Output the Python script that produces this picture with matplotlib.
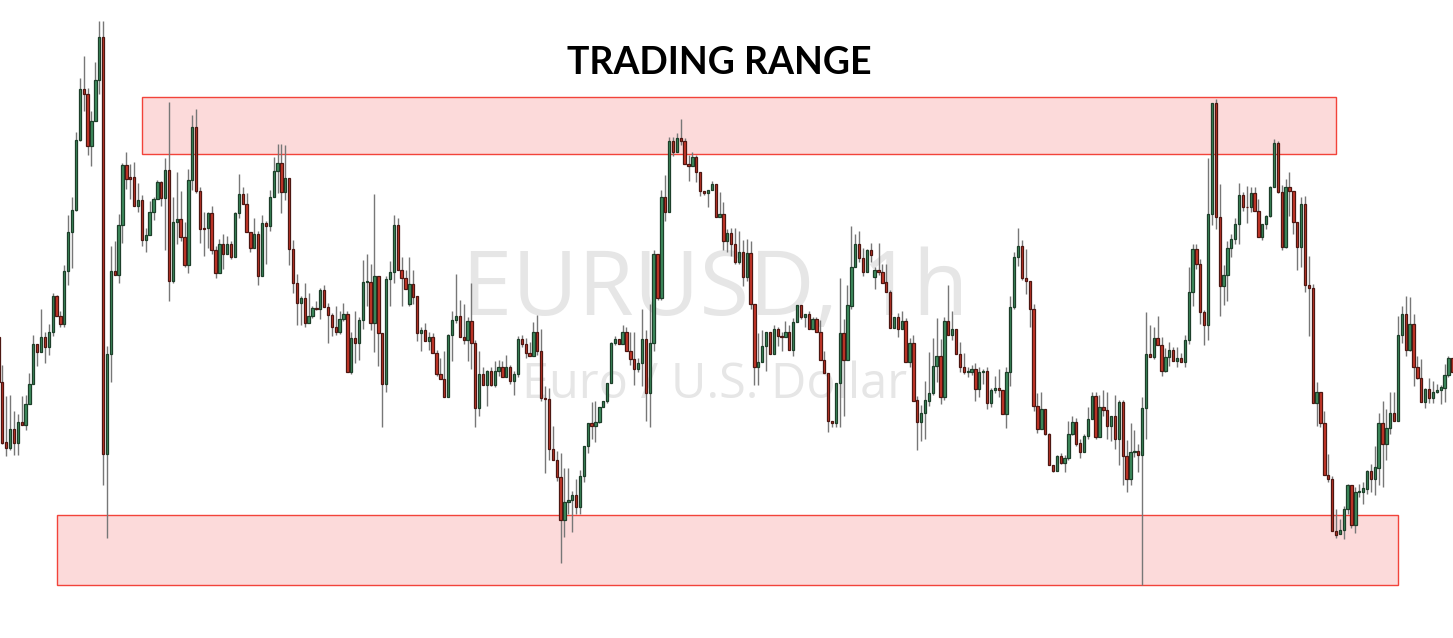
import matplotlib
matplotlib.use("Agg")
import matplotlib.pyplot as plt
from matplotlib.patches import Rectangle
import numpy as np

# EURUSD 1h candles, price in points
opens = [717, 599, 442, 428, 478, 440, 495, 488, 543, 595,
         700, 678, 718, 692, 731, 825, 773, 752, 890, 993,
         1050, 1233, 1366, 1355, 1219, 1283, 1390, 1503, 412, 672,
         891, 880, 1011, 1168, 1137, 1137, 1060, 1077, 971, 985,
         1045, 1078, 1123, 1081, 1155, 864, 1020, 1027, 980, 907,
         1130, 1268, 1100, 1002, 1002, 1042, 945, 885, 962, 935,
         962, 927, 1043, 1092, 1065, 993, 950, 988, 877, 1017,
         1008, 1083, 1153, 1173, 1097, 1135, 948, 860, 807, 820,
         755, 772, 795, 792, 840, 797, 775, 745, 732, 765,
         778, 627, 716, 703, 763, 862, 862, 755, 878, 727,
         595, 870, 887, 1012, 893, 872, 803, 857, 824, 727,
         735, 708, 718, 677, 622, 607, 560, 722, 763, 772,
         718, 710, 760, 703, 533, 620, 593, 630, 593, 630,
         638, 613, 638, 603, 620, 712, 700, 677, 668, 732,
         682, 557, 555, 425, 397, 352, 240, 287, 290, 303,
         272, 353, 432, 492, 485, 495, 535, 550, 597, 703,
         712, 700, 730, 682, 660, 635, 650, 713, 570, 703,
         935, 820, 1083, 1045, 1230, 1203, 1238, 1232, 1170, 1165,
         1190, 1150, 1100, 1095, 1102, 1118, 1032, 1040, 970, 990,
         960, 915, 940, 875, 938, 805, 638, 653, 695, 730,
         672, 738, 720, 718, 730, 685, 758, 802, 770, 778,
         740, 765, 732, 658, 623, 498, 492, 597, 727, 658,
         800, 900, 960, 925, 888, 945, 875, 892, 887, 862,
         835, 742, 770, 740, 760, 652, 702, 552, 495, 518,
         550, 570, 643, 667, 560, 760, 723, 740, 672, 640,
         625, 625, 635, 582, 625, 630, 545, 580, 583, 580,
         517, 625, 797, 928, 957, 872, 865, 792, 538, 477,
         528, 465, 382, 368, 407, 388, 400, 463, 495, 440,
         418, 458, 502, 563, 455, 535, 527, 485, 510, 450,
         547, 407, 347, 417, 420, 410, 532, 673, 665, 716,
         698, 630, 665, 685, 655, 662, 652, 710, 835, 948,
         910, 783, 750, 1040, 1330, 1032, 852, 880, 952, 974,
         1014, 1090, 1059, 1057, 1095, 1048, 979, 1014, 1035, 1110,
         1225, 1097, 953, 1110, 1100, 1018, 953, 1065, 855, 847,
         545, 575, 493, 357, 347, 210, 203, 212, 267, 330,
         225, 313, 313, 320, 368, 347, 375, 492, 438, 480,
         518, 498, 723, 777, 685, 752, 640, 610, 548, 582,
         557, 573, 578, 585, 617, 662]

highs = [720, 645, 563, 565, 525, 515, 563, 565, 623, 723,
         700, 792, 730, 752, 832, 828, 785, 907, 1038, 1085,
         1255, 1395, 1453, 1370, 1310, 1438, 1545, 1545, 695, 955,
         970, 1040, 1172, 1203, 1170, 1177, 1120, 1090, 1003, 1075,
         1083, 1128, 1126, 1187, 1332, 1083, 1150, 1100, 1020, 1158,
         1300, 1315, 1110, 1045, 1045, 1062, 955, 975, 988, 982,
         970, 1045, 1145, 1110, 1095, 993, 1028, 995, 1038, 1022,
         1102, 1190, 1224, 1222, 1220, 1135, 972, 882, 825, 860,
         832, 800, 813, 845, 855, 807, 780, 798, 785, 808,
         785, 730, 785, 770, 920, 935, 910, 1093, 878, 727,
         878, 917, 1037, 1030, 927, 892, 927, 892, 824, 745,
         755, 730, 727, 685, 662, 680, 725, 785, 882, 815,
         805, 770, 858, 710, 680, 640, 632, 640, 655, 658,
         655, 670, 645, 630, 720, 722, 715, 705, 757, 775,
         740, 590, 585, 485, 420, 415, 375, 375, 315, 347,
         370, 432, 492, 547, 550, 535, 550, 597, 705, 720,
         712, 748, 745, 730, 730, 663, 790, 735, 805, 945,
         935, 1103, 1142, 1242, 1242, 1252, 1288, 1238, 1195, 1202,
         1195, 1150, 1100, 1102, 1125, 1118, 1098, 1072, 1000, 1003,
         1002, 995, 972, 975, 968, 805, 727, 735, 732, 732,
         748, 745, 732, 760, 750, 768, 802, 802, 778, 785,
         770, 770, 762, 680, 623, 498, 597, 873, 765, 855,
         1008, 988, 995, 950, 948, 965, 900, 965, 910, 908,
         840, 770, 780, 785, 768, 715, 723, 563, 540, 603,
         678, 715, 767, 712, 770, 853, 785, 740, 705, 675,
         638, 645, 650, 640, 635, 638, 583, 615, 635, 580,
         640, 825, 940, 1003, 972, 948, 865, 805, 570, 573,
         530, 467, 382, 410, 415, 410, 497, 510, 505, 452,
         465, 535, 575, 573, 565, 578, 575, 510, 565, 552,
         552, 448, 492, 475, 438, 560, 782, 748, 743, 774,
         717, 688, 705, 692, 692, 675, 722, 900, 960, 962,
         922, 788, 1187, 1330, 1340, 1118, 905, 968, 988, 1028,
         1122, 1098, 1112, 1110, 1110, 1080, 1014, 1038, 1112, 1235,
         1232, 1117, 1132, 1150, 1100, 1018, 1083, 1088, 930, 857,
         600, 575, 525, 412, 355, 267, 242, 275, 332, 330,
         325, 332, 338, 370, 385, 432, 518, 550, 530, 573,
         573, 772, 800, 825, 822, 778, 667, 660, 585, 610,
         602, 595, 592, 647, 667, 662]

lows = [598, 437, 407, 422, 410, 408, 488, 475, 543, 595,
        642, 678, 650, 670, 720, 773, 745, 745, 855, 898,
        1047, 1230, 1310, 1193, 1165, 1283, 1353, 330, 192, 600,
        880, 860, 963, 1104, 1080, 1060, 1044, 955, 940, 985,
        1025, 1078, 1060, 945, 812, 860, 960, 970, 900, 885,
        1103, 1095, 965, 930, 952, 935, 872, 885, 897, 935,
        923, 927, 1028, 1065, 993, 940, 950, 855, 877, 908,
        995, 1083, 1095, 1043, 1077, 905, 832, 748, 748, 745,
        755, 767, 788, 765, 797, 702, 720, 722, 725, 760,
        627, 622, 650, 658, 740, 800, 735, 678, 642, 482,
        575, 800, 860, 893, 800, 843, 800, 803, 707, 682,
        708, 685, 677, 615, 607, 560, 560, 655, 755, 718,
        700, 655, 635, 482, 510, 593, 538, 590, 588, 615,
        613, 613, 595, 567, 613, 692, 663, 668, 668, 670,
        550, 362, 395, 395, 340, 125, 195, 255, 208, 255,
        255, 337, 415, 452, 442, 493, 535, 545, 597, 697,
        700, 700, 682, 645, 593, 625, 590, 498, 483, 680,
        815, 815, 1022, 1045, 1192, 1203, 1220, 1170, 1125, 1165,
        1123, 1087, 1090, 1057, 1102, 1032, 1032, 945, 940, 930,
        910, 910, 852, 865, 790, 593, 592, 653, 628, 672,
        672, 695, 680, 718, 685, 668, 758, 765, 745, 740,
        740, 732, 658, 623, 468, 482, 482, 482, 512, 658,
        792, 900, 915, 878, 888, 915, 843, 880, 860, 835,
        742, 742, 718, 738, 652, 640, 550, 422, 445, 450,
        538, 565, 600, 543, 552, 723, 710, 672, 625, 620,
        613, 618, 550, 562, 595, 528, 535, 570, 560, 517,
        480, 590, 792, 903, 867, 830, 745, 525, 467, 477,
        462, 382, 365, 368, 385, 365, 397, 460, 432, 400,
        418, 450, 502, 450, 455, 510, 450, 445, 425, 382,
        330, 312, 330, 403, 365, 68, 450, 665, 660, 698,
        615, 625, 642, 655, 638, 652, 638, 700, 800, 895,
        753, 698, 710, 1012, 1000, 773, 802, 812, 928, 960,
        962, 1047, 1015, 1045, 1047, 979, 973, 1000, 1032, 1110,
        1095, 945, 950, 1035, 988, 893, 900, 835, 720, 545,
        485, 482, 357, 338, 210, 192, 203, 190, 255, 218,
        205, 300, 280, 308, 312, 305, 330, 325, 395, 465,
        498, 498, 702, 668, 682, 590, 607, 548, 532, 545,
        545, 570, 543, 548, 612, 625]

closes = [600, 440, 428, 478, 440, 495, 488, 543, 595, 700,
          678, 718, 692, 731, 825, 773, 752, 890, 993, 1050,
          1233, 1366, 1355, 1219, 1283, 1390, 1503, 412, 672, 891,
          880, 1011, 1168, 1131, 1131, 1060, 1077, 971, 985, 1045,
          1078, 1123, 1081, 1155, 864, 1020, 1027, 979, 907, 1130,
          1268, 1100, 1000, 1000, 1042, 945, 885, 962, 935, 962,
          927, 1043, 1092, 1065, 993, 950, 988, 877, 1017, 1008,
          1083, 1153, 1173, 1097, 1135, 948, 860, 807, 820, 755,
          772, 795, 792, 840, 797, 775, 745, 732, 765, 778,
          627, 716, 703, 763, 862, 864, 755, 878, 727, 595,
          870, 887, 1012, 893, 872, 843, 857, 822, 727, 735,
          708, 718, 677, 622, 607, 560, 722, 763, 772, 718,
          710, 760, 703, 533, 620, 593, 630, 593, 630, 638,
          613, 638, 603, 620, 712, 700, 677, 668, 732, 682,
          557, 555, 425, 395, 352, 240, 287, 292, 303, 272,
          353, 432, 492, 485, 495, 535, 550, 597, 703, 712,
          700, 730, 682, 660, 635, 650, 713, 570, 703, 935,
          820, 1083, 1045, 1230, 1203, 1238, 1232, 1170, 1165, 1190,
          1150, 1100, 1095, 1102, 1118, 1032, 1040, 970, 990, 960,
          915, 940, 875, 938, 805, 638, 653, 695, 730, 672,
          738, 720, 718, 730, 685, 758, 802, 770, 778, 740,
          765, 732, 658, 623, 498, 492, 597, 727, 658, 802,
          900, 960, 925, 888, 945, 932, 892, 887, 860, 835,
          742, 770, 740, 760, 652, 702, 550, 495, 518, 552,
          570, 643, 667, 560, 760, 723, 740, 672, 640, 625,
          630, 635, 582, 625, 630, 545, 580, 583, 580, 517,
          625, 797, 928, 957, 872, 865, 792, 538, 477, 528,
          465, 382, 368, 407, 388, 400, 465, 495, 438, 418,
          458, 502, 563, 455, 535, 527, 485, 510, 450, 547,
          407, 347, 418, 420, 410, 532, 673, 665, 716, 698,
          630, 665, 685, 655, 662, 652, 710, 835, 948, 908,
          783, 750, 1040, 1330, 1032, 852, 880, 952, 974, 1014,
          1090, 1057, 1057, 1095, 1047, 979, 1014, 1035, 1110, 1225,
          1097, 953, 1110, 1100, 1018, 953, 1065, 855, 847, 545,
          575, 493, 357, 347, 210, 200, 212, 267, 330, 225,
          313, 315, 322, 368, 347, 377, 492, 438, 480, 518,
          498, 723, 777, 685, 752, 640, 610, 548, 582, 557,
          573, 578, 587, 617, 662, 625]

# trading range zones: (first candle, last candle, low price, high price)
resistance_zone = (37.0, 345.0, 1197, 1346)
support_zone = (15.1, 361.0, 68, 251)

o = np.array(opens)
h = np.array(highs)
l = np.array(lows)
c = np.array(closes)
x = np.arange(len(o))
up = c >= o

fig = plt.figure(figsize=(14.53, 6.38), dpi=100)
ax = fig.add_axes([0, 0, 1, 1])
ax.set_xlim(0.407, 375.18)
ax.set_ylim(-70.2, 1600)
ax.axis("off")

# zones
for x0, x1, y0, y1 in [resistance_zone, support_zone]:
    ax.add_patch(Rectangle((x0, y0), x1 - x0, y1 - y0, facecolor="#fcdada",
                           edgecolor="#f2433a", linewidth=1.0, zorder=1))

# wicks
ax.vlines(x, l, h, color="#777777", linewidth=1.0, zorder=2)

# bodies
bottom = np.minimum(o, c)
height = np.maximum(np.abs(c - o), 1)
ax.bar(x[up], height[up], bottom=bottom[up], width=0.6,
       color="#3f8f5f", edgecolor="#1d3f2a", linewidth=0.9, zorder=3)
ax.bar(x[~up], height[~up], bottom=bottom[~up], width=0.6,
       color="#c9382a", edgecolor="#4d1712", linewidth=0.9, zorder=3)

# watermark
ax.text(715 / 1453, 1 - 315 / 638, "EURUSD, 1h", transform=ax.transAxes,
        ha="center", va="baseline", fontsize=65, color="#e6e6e6",
        family="Open Sans", zorder=0)
ax.text(715 / 1453, 1 - 398 / 638, "Euro / U.S. Dollar", transform=ax.transAxes,
        ha="center", va="baseline", fontsize=35, color="#e6e6e6",
        family="Open Sans", zorder=0)

ax.text(719 / 1453, 1 - 74 / 638, "TRADING RANGE", transform=ax.transAxes,
        ha="center", va="baseline", fontsize=27, fontweight="bold",
        color="black", family="Lato", zorder=5)

fig.savefig("out.png", dpi=100, facecolor="white")
